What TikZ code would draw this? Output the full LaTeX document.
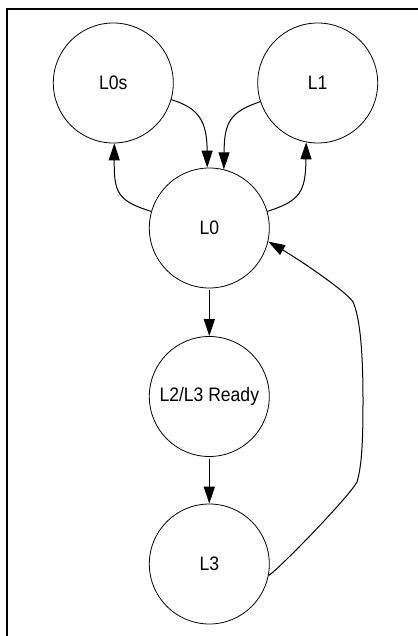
\documentclass[tikz,border=0pt]{standalone}
\usepackage{fontspec}
\setmainfont{Liberation Sans}[FakeStretch=0.9]
\usetikzlibrary{arrows.meta}
\begin{document}
\begin{tikzpicture}[x=1pt,y=-1pt,
  state/.style={circle,draw,line width=0.8pt,minimum size=120pt,inner sep=0pt,font=\fontsize{19.5}{22}\selectfont},
  arr/.style={line width=1pt,-{Triangle[length=17pt,width=11pt]}},
  sarr/.style={line width=1.5pt,-{Triangle[length=17pt,width=11pt]}}]
\useasboundingbox (0,0) rectangle (417,636);
\draw[line width=2pt] (7,640) -- (7,9) -- (420,9);
\node[state] (L0s) at (113.3,83) {L0s};
\node[state] (L1) at (317.7,83) {L1};
\node[state] (L0) at (209.3,228) {L0};
\node[state] (L2) at (209.3,396.5) {L2/L3 Ready};
\node[state] (L3) at (209.3,564) {L3};
% top loops
\draw[arr] (L0s.-16) .. controls (198,108) and (207,120) .. (L0.92);
\draw[arr] (L1.198) .. controls (230,112) and (224.3,122) .. (L0.76);
\draw[arr] (L0.164) .. controls (117,201) and (114,192) .. (L0s.-89);
\draw[arr] (L0.16) .. controls (300,201) and (305.6,192) .. (L1.-101);
% straight
\draw[sarr,shorten <=2pt] (L0.south) -- (L2.north);
\draw[sarr,shorten <=2pt] (L2.south) -- (L3.north);
% return
\coordinate (r1) at (357,482);
\coordinate (r2) at (363,400);
\coordinate (r3) at (353,302);
\draw[arr] (L3.-11) .. controls (279,569) and (348,498) .. (r1)
  .. controls (362,465) and (363,440) .. (r2)
  .. controls (363,345) and (359,315) .. (r3)
  .. controls (347,292) and (300,260) .. (L0.-13);
\end{tikzpicture}
\end{document}
